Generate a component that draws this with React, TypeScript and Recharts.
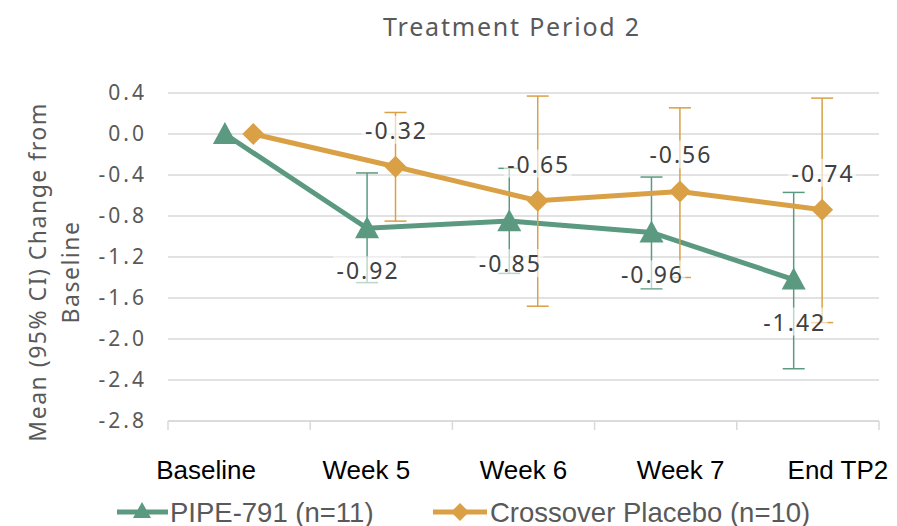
import React from 'react';
import { LineChart, Line, XAxis, YAxis, CartesianGrid, ErrorBar, LabelList } from 'recharts';

const categories = ['Baseline', 'Week 5', 'Week 6', 'Week 7', 'End TP2'];
const pipeMean = [0, -0.92, -0.85, -0.96, -1.42];
const pipeLow = [null, -1.45, -1.36, -1.51, -2.29];
const pipeHigh = [null, -0.38, -0.335, -0.42, -0.57];
const placeboMean = [0, -0.32, -0.65, -0.56, -0.74];
const placeboLow = [null, -0.85, -1.68, -1.4, -1.84];
const placeboHigh = [null, 0.21, 0.37, 0.255, 0.35];
const yTicks = [0.4, 0, -0.4, -0.8, -1.2, -1.6, -2.0, -2.4, -2.8];

const GREEN = '#5b9a80';
const ORANGE = '#d9a045';
const GRID = '#d9d9d9';
const TEXT = '#595959';
const FONT = "'Noto Sans', sans-serif";
const NARROW = "'Liberation Sans', sans-serif";

const build = (mean: number[], low: (number | null)[], high: (number | null)[], shift: number) =>
  mean.map((m, i) => ({
    x: i + shift,
    y: m,
    err: low[i] == null || high[i] == null ? undefined : [m - (low[i] as number), (high[i] as number) - m],
  }));

const pipeData = build(pipeMean, pipeLow, pipeHigh, -0.1);
const placeboData = build(placeboMean, placeboLow, placeboHigh, 0.1);

const xTicks = [-0.5, 0, 0.5, 1, 1.5, 2, 2.5, 3, 3.5, 4, 4.5];

const XTick = (props: any) => {
  const { x, y, payload } = props;
  const v = payload.value;
  if (Math.abs(v - Math.round(v)) > 0.01) {
    return <line x1={x} x2={x} y1={y} y2={y + 9} stroke={GRID} strokeWidth={1.5} />;
  }
  const i = Math.round(v);
  const dx = i === 0 ? -33 : (i - 2) * 15;
  return (
    <text x={x + dx} y={y + 58} textAnchor="middle" fill="#000" fontSize={26} fontFamily={NARROW}>
      {categories[i]}
    </text>
  );
};

const Triangle = (props: any) => {
  const { cx, cy } = props;
  if (cx == null || cy == null) return null;
  return <path d={`M${cx},${cy - 12} L${cx + 12},${cy + 10} L${cx - 12},${cy + 10} Z`} fill={GREEN} />;
};

const Diamond = (props: any) => {
  const { cx, cy } = props;
  if (cx == null || cy == null) return null;
  return <path d={`M${cx},${cy - 11} L${cx + 11},${cy} L${cx},${cy + 11} L${cx - 11},${cy} Z`} fill={ORANGE} />;
};

const makeLabel = (offset: number) => (props: any) => {
  const { x, y, value, index } = props;
  if (index === 0) return null;
  const cy = y + offset;
  return (
    <g>
      <rect x={x - 34} y={cy - 14} width={68} height={28} fill="#fff" opacity={0.6} />
      <text
        x={x + 1}
        y={cy}
        textAnchor="middle"
        dominantBaseline="central"
        fill="#404040"
        fontSize={23}
        letterSpacing={2}
        fontFamily={FONT}
      >
        {value.toFixed(2)}
      </text>
    </g>
  );
};

export default function App() {
  return (
    <div style={{ position: 'absolute', left: 0, top: 0, width: 897, height: 526, background: '#fff' }}>
      <LineChart width={897} height={526} margin={{ top: 93, right: 18, left: 0, bottom: 0 }}>
        <CartesianGrid vertical={false} stroke={GRID} strokeWidth={1.5} />
        <XAxis
          type="number"
          dataKey="x"
          domain={[-0.5, 4.5]}
          ticks={xTicks}
          interval={0}
          tick={<XTick />}
          tickLine={false}
          tickSize={0}
          tickMargin={0}
          axisLine={{ stroke: GRID, strokeWidth: 1.5 }}
          height={105}
          allowDataOverflow
        />
        <YAxis
          type="number"
          domain={[-2.8, 0.4]}
          ticks={yTicks}
          interval={0}
          allowDataOverflow
          width={168}
          axisLine={false}
          tickLine={false}
          tickSize={0}
          tickMargin={21}
          tickFormatter={(v: number) => v.toFixed(1)}
          tick={{ fill: TEXT, fontSize: 21, fontFamily: FONT, letterSpacing: 3 }}
        />
        <Line
          data={pipeData}
          dataKey="y"
          stroke={GREEN}
          strokeWidth={5}
          dot={<Triangle />}
          activeDot={false}
          isAnimationActive={false}
        >
          <ErrorBar dataKey="err" direction="y" stroke={GREEN} strokeWidth={1.5} width={11} />
        </Line>
        <Line
          data={placeboData}
          dataKey="y"
          stroke={ORANGE}
          strokeWidth={5}
          dot={<Diamond />}
          activeDot={false}
          isAnimationActive={false}
        >
          <ErrorBar dataKey="err" direction="y" stroke={ORANGE} strokeWidth={1.5} width={11} />
        </Line>
        <Line data={pipeData} dataKey="y" stroke="none" dot={false} activeDot={false} isAnimationActive={false} legendType="none">
          <LabelList dataKey="y" content={makeLabel(42)} />
        </Line>
        <Line data={placeboData} dataKey="y" stroke="none" dot={false} activeDot={false} isAnimationActive={false} legendType="none">
          <LabelList dataKey="y" content={makeLabel(-37)} />
        </Line>
      </LineChart>
      <svg width={897} height={526} style={{ position: 'absolute', left: 0, top: 0, pointerEvents: 'none' }}>
        <text x={512} y={36} textAnchor="middle" fill={TEXT} fontSize={25} letterSpacing={1.8} fontFamily={FONT}>
          Treatment Period 2
        </text>
        <g transform="translate(37,272) rotate(-90)">
          <text x={0} y={0} textAnchor="middle" dominantBaseline="central" fill={TEXT} fontSize={23} letterSpacing={1.5} fontFamily={FONT}>
            Mean (95% CI) Change from
          </text>
        </g>
        <g transform="translate(70,272) rotate(-90)">
          <text x={0} y={0} textAnchor="middle" dominantBaseline="central" fill={TEXT} fontSize={23} letterSpacing={1.5} fontFamily={FONT}>
            Baseline
          </text>
        </g>
        <line x1={117} x2={168} y1={512} y2={512} stroke={GREEN} strokeWidth={5} />
        <path d="M142,502 L151,518 L133,518 Z" fill={GREEN} />
        <text x={170} y={512} dominantBaseline="central" fill={TEXT} fontSize={27.5} fontFamily={NARROW}>
          PIPE-791 (n=11)
        </text>
        <line x1={433} x2={487} y1={512} y2={512} stroke={ORANGE} strokeWidth={5} />
        <path d="M460,503 L469,512 L460,521 L451,512 Z" fill={ORANGE} />
        <text x={490} y={512} dominantBaseline="central" fill={TEXT} fontSize={27.5} fontFamily={NARROW}>
          Crossover Placebo (n=10)
        </text>
      </svg>
    </div>
  );
}
